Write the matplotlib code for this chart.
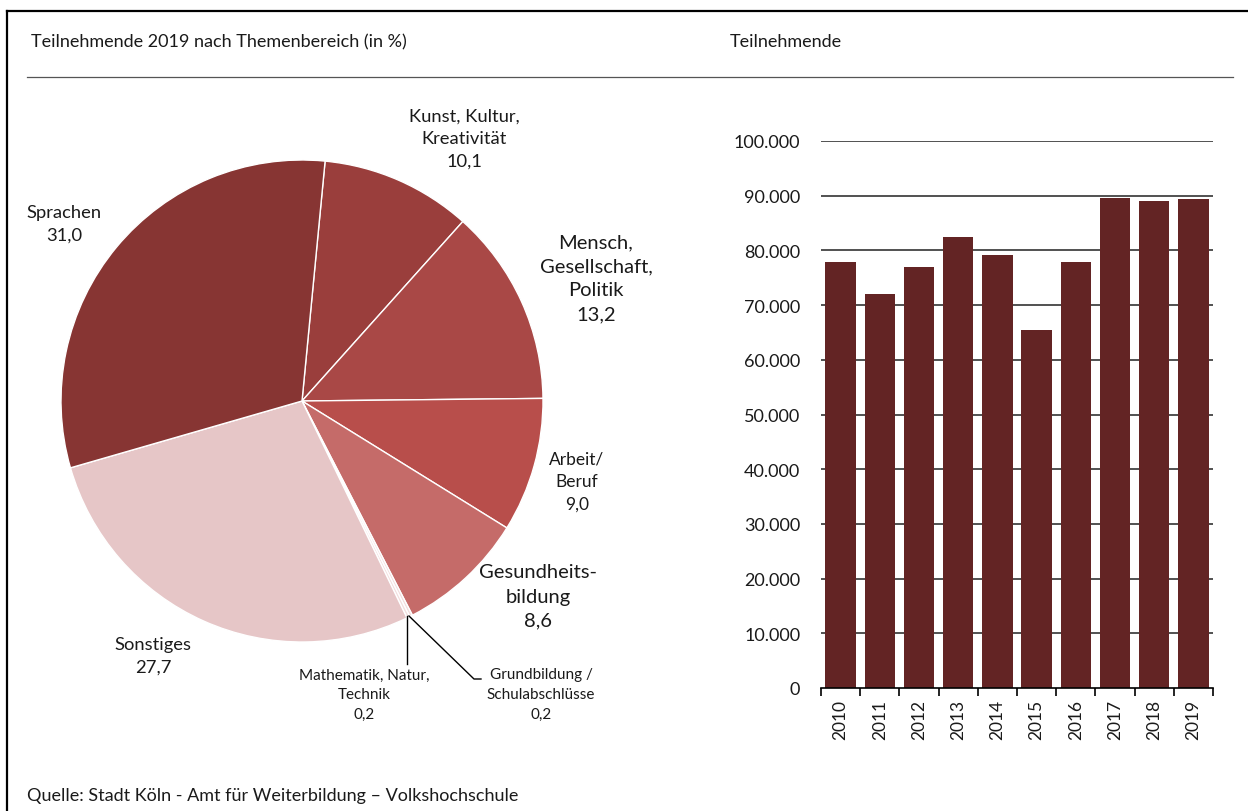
import matplotlib
matplotlib.use("Agg")
import matplotlib.pyplot as plt
from matplotlib.lines import Line2D

plt.rcParams['font.family'] = ['Lato', 'DejaVu Sans']

W, H = 1248, 812

# ---- data ----
pie_labels = ["Kunst, Kultur,\nKreativität", "Mensch,\nGesellschaft,\nPolitik", "Arbeit/\nBeruf",
              "Gesundheits-\nbildung", "Grundbildung /\nSchulabschlüsse", "Mathematik, Natur,\nTechnik",
              "Sonstiges", "Sprachen"]
pie_values = [10.1, 13.2, 9.0, 8.6, 0.2, 0.2, 27.7, 31.0]
pie_colors = ["#9a3e3c", "#a94846", "#b84e4b", "#c56b69", "#f2dede", "#f2dede", "#e6c6c7", "#873533"]

years = ["2010", "2011", "2012", "2013", "2014", "2015", "2016", "2017", "2018", "2019"]
participants = [77900, 72000, 76900, 82400, 79200, 65400, 77900, 89600, 89000, 89400]
yticks = list(range(0, 100001, 10000))


def fmt(v):
    return "{:,}".format(v).replace(",", ".")


def fx(x):
    return x / W


def fy(y):
    return 1 - y / H


fig = plt.figure(figsize=(W / 100, H / 100), dpi=100)

# frame lines
fig.add_artist(Line2D([fx(7), fx(W)], [fy(12), fy(12)], color="black", lw=1.6))
fig.add_artist(Line2D([fx(7), fx(7)], [fy(12), fy(H)], color="black", lw=1.6))
fig.add_artist(Line2D([fx(27), fx(1233)], [fy(78), fy(78)], color="#555555", lw=0.9))

fig.text(fx(31), fy(42), "Teilnehmende 2019 nach Themenbereich (in %)", fontsize=13,
         va="center", ha="left", color="#1a1a1a")
fig.text(fx(730), fy(42), "Teilnehmende", fontsize=13, va="center", ha="left", color="#1a1a1a")
fig.text(fx(27), fy(796), "Quelle: Stadt Köln - Amt für Weiterbildung – Volkshochschule",
         fontsize=13, va="center", ha="left", color="#1a1a1a")

# ---- pie ----
cx, cy, r = 302, 402, 241
axp = fig.add_axes([fx(cx - r), fy(cy + r), 2 * r / W, 2 * r / H])
axp.pie(pie_values, colors=pie_colors, startangle=84.5, counterclock=False, radius=1,
        wedgeprops=dict(edgecolor="white", linewidth=1.0))
axp.set_xlim(-1, 1)
axp.set_ylim(-1, 1)
axp.set_aspect("auto")
axp.axis("off")

def vstr(v):
    return ("%.1f" % v).replace(".", ",")

# label positions (pixel centres) and sizes
label_pos = [(464, 139, 13.2), (596, 279, 14.5), (577, 482, 12.5), (538, 597, 14.5),
             (541, 695, 11.0), (364, 695, 11.0), (153, 656, 13.2), (64, 224, 13.2)]
for lab, v, (x, y, fs) in zip(pie_labels, pie_values, label_pos):
    fig.text(fx(x), fy(y), lab + "\n" + vstr(v), fontsize=fs, ha="center", va="center",
             linespacing=1.5, color="#1a1a1a")

# leader lines
fig.add_artist(Line2D([fx(407), fx(407)], [fy(617), fy(665)], color="black", lw=1.0))
fig.add_artist(Line2D([fx(409), fx(474), fx(481)], [fy(617), fy(680), fy(680)], color="black", lw=1.0))

# ---- bars ----
x0, x1 = 821, 1213
ytop, ybot = 142, 689
axb = fig.add_axes([fx(x0), fy(ybot), (x1 - x0) / W, (ybot - ytop) / H])
pos = list(range(len(years)))
axb.set_axisbelow(True)
for t in yticks[1:]:
    axb.axhline(t, color="#222222", lw=1.1, zorder=0)
axb.bar(pos, participants, width=0.78, color="#632424", zorder=2)
axb.set_xlim(-0.5, len(years) - 0.5)
axb.set_ylim(0, 100000)
for s in ["top", "right", "left"]:
    axb.spines[s].set_visible(False)
axb.spines["bottom"].set_linewidth(1.2)
axb.set_yticks(yticks)
axb.set_yticklabels([fmt(t) for t in yticks], fontsize=13, color="#1a1a1a")
axb.tick_params(axis="y", length=0, pad=15)
axb.set_xticks([p - 0.5 for p in pos] + [len(years) - 0.5])
axb.set_xticklabels([])
axb.tick_params(axis="x", which="major", length=6, width=1.2, direction="out")
axb.set_xticks(pos, minor=True)
axb.set_xticklabels(years, minor=True, rotation=90, fontsize=12.5, color="#1a1a1a")
axb.tick_params(axis="x", which="minor", length=0, pad=8)

fig.savefig("out.png", dpi=100)
